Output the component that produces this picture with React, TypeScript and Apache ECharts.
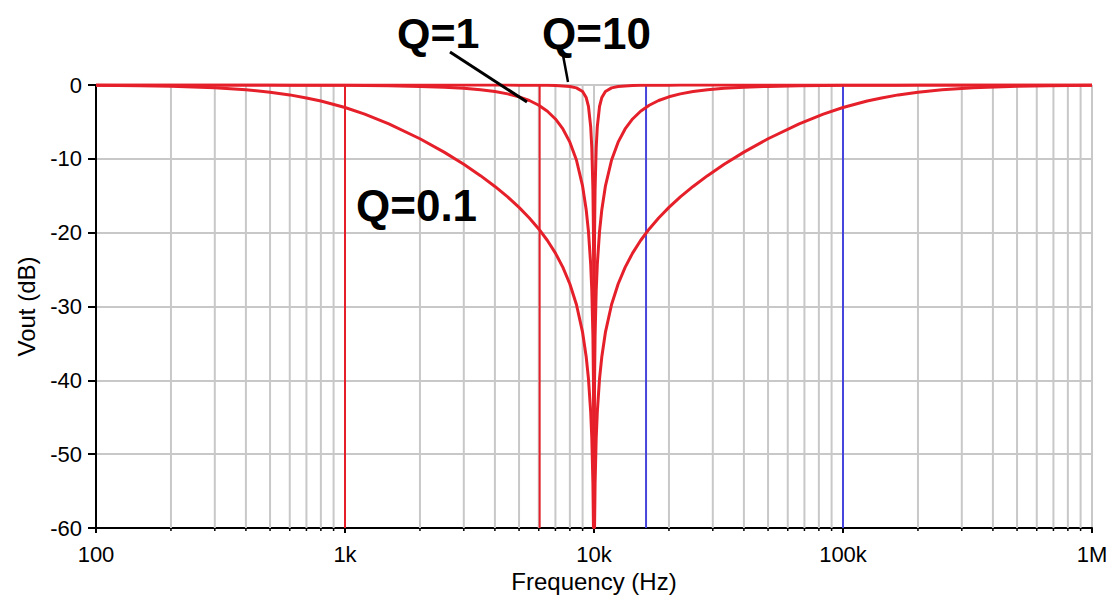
import React, { useEffect, useRef } from "react";
import * as echarts from "echarts";

// Frequency points (Hz) at which the curves were read
const freqHz = [
  100, 150, 200, 300, 400, 500, 600, 700, 800, 1000, 1200, 1500, 2000, 2500, 3000, 3500, 4000, 4500,
  5000, 5500, 6000, 6500, 7000, 7500, 8000, 8500, 9000, 9300, 9500, 9700, 9800, 9900, 9950, 9990,
  10000,
  10010, 10050, 10101, 10204, 10309, 10526, 10753, 11111, 11765, 12500, 13333, 14286, 15385, 16667,
  18182, 20000, 22222, 25000, 28571, 33333, 40000, 50000, 66667, 83333, 100000, 125000, 142857,
  166667, 200000, 250000, 333333, 500000, 666667, 1000000,
];

// Vout (dB) for Q = 0.1
const q01Db = [
  -0.04, -0.1, -0.17, -0.37, -0.65, -0.97, -1.34, -1.75, -2.17, -3.05, -3.95, -5.26, -7.28, -9.09,
  -10.74, -12.28, -13.74, -15.16, -16.58, -18.01, -19.49, -21.06, -22.77, -24.7, -26.95, -29.73,
  -33.51, -36.76, -39.78, -44.3, -47.87, -53.94, -59.98, -60,
  -60,
  -60, -59.98, -53.94, -47.87, -44.3, -39.78, -36.76, -33.51, -29.73, -26.95, -24.7, -22.77, -21.06,
  -19.49, -18.01, -16.58, -15.16, -13.74, -12.28, -10.74, -9.09, -7.28, -5.26, -3.95, -3.05, -2.17,
  -1.75, -1.34, -0.97, -0.65, -0.37, -0.17, -0.1, -0.04,
];

// Vout (dB) for Q = 1
const q1Db = [
  0, 0, 0, 0, -0.01, -0.01, -0.02, -0.02, -0.03, -0.04, -0.06, -0.1, -0.19, -0.3, -0.45, -0.64, -0.89,
  -1.2, -1.6, -2.1, -2.74, -3.55, -4.6, -5.95, -7.74, -10.16, -13.7, -16.85, -19.82, -24.32, -27.88,
  -33.94, -39.98, -53.98,
  -60,
  -53.98, -39.98, -33.94, -27.88, -24.32, -19.82, -16.85, -13.7, -10.16, -7.74, -5.95, -4.6, -3.55,
  -2.74, -2.1, -1.6, -1.2, -0.89, -0.64, -0.45, -0.3, -0.19, -0.1, -0.06, -0.04, -0.03, -0.02, -0.02,
  -0.01, -0.01, 0, 0, 0, 0,
];

// Vout (dB) for Q = 10
const q10Db = [
  0, 0, 0, 0, 0, 0, 0, 0, 0, 0, 0, 0, 0, 0, 0, -0.01, -0.01, -0.01, -0.02, -0.03, -0.04, -0.05, -0.08,
  -0.13, -0.21, -0.39, -0.88, -1.69, -2.9, -5.68, -8.53, -14.11, -20.02, -33.98,
  -60,
  -33.98, -20.02, -14.11, -8.53, -5.68, -2.9, -1.69, -0.88, -0.39, -0.21, -0.13, -0.08, -0.05, -0.04,
  -0.03, -0.02, -0.01, -0.01, -0.01, 0, 0, 0, 0, 0, 0, 0, 0, 0, 0, 0, 0, 0, 0, 0,
];

// Vertical marker lines (Hz)
const redMarkersHz = [1000, 6050];
const blueMarkersHz = [16180, 100000];

// Axis ticks
const xTickValues = [100, 1000, 10000, 100000, 1000000];
const xTickLabels = ["100", "1k", "10k", "100k", "1M"];
const yMin = -60;
const yMax = 0;
const yStep = 10;

// Minor (2..9 per decade) grid positions
const minorGridHz: number[] = [];
for (let d = 100; d < 1000000; d *= 10) {
  for (let m = 2; m <= 9; m++) minorGridHz.push(d * m);
}

const RED = "#e6202a";
const BLUE = "#4646dc";
const GRID = "#c8c8c8";
const FONT = "'Liberation Sans', Arial, Helvetica, sans-serif";

export default function App() {
  const ref = useRef<HTMLDivElement>(null);

  useEffect(() => {
    if (!ref.current) return;
    const chart = echarts.init(ref.current, null, { renderer: "svg" });

    const curve = (name: string, values: number[]) => ({
      name,
      type: "line",
      data: freqHz.map((f, i) => [f, values[i]]),
      symbol: "none",
      z: 5,
      lineStyle: { color: RED, width: 3 },
      clip: true,
    });

    const marker = (f: number, color: string) => ({
      type: "line",
      data: [
        [f, yMax],
        [f, yMin],
      ],
      symbol: "none",
      z: 3,
      lineStyle: { color, width: 2 },
      silent: true,
    });

    const option = {
      animation: false,
      grid: { left: 96, right: 19, top: 85, bottom: 71, containLabel: false },
      xAxis: {
        type: "log",
        logBase: 10,
        min: xTickValues[0],
        max: xTickValues[xTickValues.length - 1],
        name: "Frequency (Hz)",
        nameLocation: "middle",
        nameGap: 38,
        nameTextStyle: { fontSize: 24, color: "#000", fontFamily: FONT },
        axisLine: { onZero: false, lineStyle: { color: "#000", width: 2 } },
        axisTick: { length: 5, lineStyle: { color: "#000", width: 2 } },
        axisLabel: {
          fontSize: 22,
          color: "#000",
          fontFamily: FONT,
          margin: 15,
          formatter: (v: number) => {
            const i = xTickValues.findIndex((t) => Math.abs(t - v) / t < 1e-6);
            return i >= 0 ? xTickLabels[i] : "";
          },
        },
        splitLine: { show: true, lineStyle: { color: GRID, width: 2 } },
      },
      yAxis: {
        type: "value",
        min: yMin,
        max: yMax,
        interval: yStep,
        name: "Vout (dB)",
        nameLocation: "middle",
        nameGap: 58,
        nameTextStyle: { fontSize: 24, color: "#000", fontFamily: FONT },
        axisLine: { show: true, onZero: false, lineStyle: { color: "#000", width: 2 } },
        axisTick: { show: true, length: 8, lineStyle: { color: "#000", width: 2 } },
        axisLabel: { fontSize: 22, color: "#000", fontFamily: FONT, margin: 14 },
        splitLine: { show: true, lineStyle: { color: GRID, width: 2 } },
      },
      series: [
        {
          type: "custom",
          z: 1,
          silent: true,
          clip: false,
          data: minorGridHz.map((f) => [f, yMin]),
          encode: { x: 0, y: 1 },
          renderItem: (params: any, api: any) => {
            const f = api.value(0);
            const top = api.coord([f, yMax]);
            const bot = api.coord([f, yMin]);
            return {
              type: "group",
              children: [
                {
                  type: "line",
                  shape: { x1: top[0], y1: top[1], x2: bot[0], y2: bot[1] },
                  style: { stroke: GRID, lineWidth: 2 },
                },
                {
                  type: "line",
                  shape: { x1: bot[0], y1: bot[1], x2: bot[0], y2: bot[1] + 3 },
                  style: { stroke: "#000", lineWidth: 1.5 },
                },
              ],
            };
          },
        },
        ...redMarkersHz.map((f) => marker(f, RED)),
        ...blueMarkersHz.map((f) => marker(f, BLUE)),
        curve("Q=0.1", q01Db),
        curve("Q=1", q1Db),
        curve("Q=10", q10Db),
      ],
      graphic: [
        {
          type: "text",
          left: 397,
          top: 11,
          z: 10,
          style: { text: "Q=1", fontSize: 43, fontWeight: "bold", fill: "#000", fontFamily: FONT },
        },
        {
          type: "text",
          left: 542,
          top: 11,
          z: 10,
          style: { text: "Q=10", fontSize: 44, fontWeight: "bold", fill: "#000", fontFamily: FONT },
        },
        {
          type: "text",
          left: 356,
          top: 183,
          z: 10,
          style: { text: "Q=0.1", fontSize: 44, fontWeight: "bold", fill: "#000", fontFamily: FONT },
        },
        {
          type: "line",
          z: 10,
          shape: { x1: 450, y1: 52, x2: 527, y2: 102 },
          style: { stroke: "#000", lineWidth: 3 },
        },
        {
          type: "line",
          z: 10,
          shape: { x1: 563, y1: 55, x2: 568, y2: 82 },
          style: { stroke: "#000", lineWidth: 2.5 },
        },
      ],
    };

    chart.setOption(option as any);
    return () => chart.dispose();
  }, []);

  return <div ref={ref} style={{ width: 1111, height: 599, position: "absolute", left: 0, top: 0 }} />;
}
